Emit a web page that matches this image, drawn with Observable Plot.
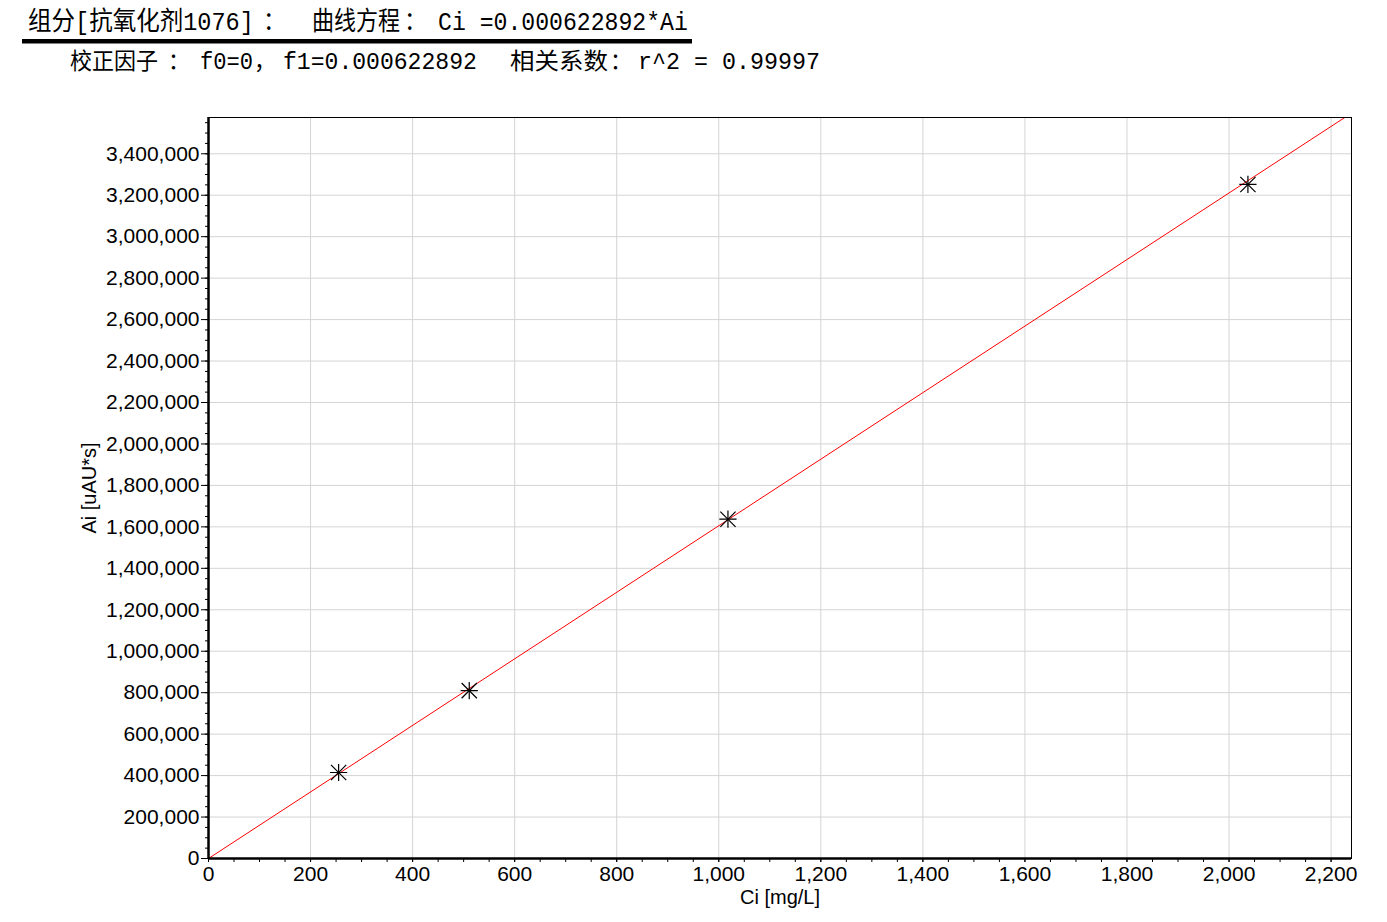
<!DOCTYPE html>
<html>
<head>
<meta charset="utf-8">
<script src="https://cdn.jsdelivr.net/npm/d3@7"></script>
<script src="https://cdn.jsdelivr.net/npm/@observablehq/plot@0.6"></script>
<style>
html, body { margin: 0; padding: 0; background: #fff; }
#title { display: block; }
#chart svg { display: block; }
</style>
</head>
<body>
<svg id="title" width="1387" height="90"></svg>
<div id="chart"></div>
<script>
// ---- data ----
const ci = [255, 511, 1018, 2037];                 // Ci [mg/L]
const ai = [415000, 810000, 1637000, 3252000];     // Ai [uAU*s]
const f0 = 0;
const f1 = 0.000622892;
const xTicks = d3.range(0, 2201, 200);
const xMinorTicks = d3.range(0, 2240, 50);
const yTicks = d3.range(0, 3400001, 200000);
const yMinorTicks = d3.range(0, 3575001, 50000);
const xDomain = [0, 2240];
const yDomain = [0, 3575000];
const xLabel = "Ci [mg/L]";
const yLabel = "Ai [uAU*s]";
const titleTexts = ["组分[抗氧化剂1076]", "：", "曲线方程", "：", "Ci =0.000622892*Ai"];
const subtitleTexts = ["校正因子", "：", "f0=0", "，", "f1=0.000622892", "相关系数", "：", "r^2 = 0.99997"];

// ---- title layout ----
const titleFont = "'Liberation Mono', 'Noto Sans CJK SC', monospace";
const line1 = { y: 30, size: 23, sy: 1.12, parts: [[28, 226], [263, null], [312, 88], [404, null], [438, 250]] };
const line2 = { y: 68.5, size: 22, sy: 1.05, parts: [[70, 88], [168, null], [200, 53], [254, null], [283, 194], [510, 98], [610, null], [638, 182]] };
const tsvg = d3.select("#title");
function drawLine(texts, line) {
  texts.forEach((t, i) => {
    const [x, len] = line.parts[i];
    const el = tsvg.append("text")
      .attr("font-family", titleFont)
      .attr("font-size", line.size)
      .attr("fill", "black")
      .text(t);
    let sx = 1;
    if (len) {
      const natural = el.node().getComputedTextLength();
      if (natural > 0) sx = len / natural;
    }
    el.attr("transform", `translate(${x},${line.y}) scale(${sx},${line.sy})`);
  });
}
drawLine(titleTexts, line1);
drawLine(subtitleTexts, line2);
tsvg.append("rect").attr("x", 22).attr("y", 39).attr("width", 670).attr("height", 4.5).attr("fill", "black");

// ---- chart ----
const points = ci.map((c, i) => ({ ci: c, ai: ai[i] }));
const fit = [yDomain[0], yDomain[1]].map(a => ({ ai: a, ci: f0 + f1 * a }));
const fmt = d3.format(",");
const grid = "#d4d4d4";

const chart = Plot.plot({
  width: 1387,
  height: 832,
  marginLeft: 208,
  marginRight: 36,
  marginTop: 27,
  marginBottom: 64,
  style: { fontFamily: "'Liberation Sans', Arial, sans-serif", fontSize: "21px", color: "black", background: "white", overflow: "visible" },
  x: { domain: xDomain },
  y: { domain: yDomain },
  marks: [
    Plot.gridX(xTicks, { stroke: grid, strokeOpacity: 1 }),
    Plot.gridY(yTicks, { stroke: grid, strokeOpacity: 1 }),
    Plot.axisX(xMinorTicks, { tickSize: 4, tickFormat: () => "", label: null }),
    Plot.axisX(xTicks, { tickSize: 4, tickPadding: 4, tickFormat: fmt, label: null, fontSize: 21 }),
    Plot.axisY(yMinorTicks, { tickSize: 3, tickFormat: () => "", label: null }),
    Plot.axisY(yTicks, { tickSize: 7, tickPadding: 2, tickFormat: fmt, label: null, fontSize: 21 }),
    Plot.line(fit, { x: "ci", y: "ai", stroke: "red", strokeWidth: 1 }),
    Plot.frame({ stroke: "black", strokeWidth: 1 }),
    Plot.ruleX([xDomain[0]], { stroke: "black", strokeWidth: 2.5 }),
    Plot.ruleY([yDomain[0]], { stroke: "black", strokeWidth: 2.5 }),
    Plot.dot(points, { x: "ci", y: "ai", symbol: "plus", r: 5.6, stroke: "black", strokeWidth: 1.2 }),
    Plot.dot(points, { x: "ci", y: "ai", symbol: "times", r: 7, stroke: "black", strokeWidth: 1.2 }),
    Plot.text([xLabel], { frameAnchor: "bottom", dy: 45, text: d => d, fontSize: 20 }),
    Plot.text([yLabel], { frameAnchor: "left", dx: -119, rotate: -90, textAnchor: "middle", text: d => d, fontSize: 20 })
  ]
});
document.getElementById("chart").appendChild(chart);
</script>
</body>
</html>
